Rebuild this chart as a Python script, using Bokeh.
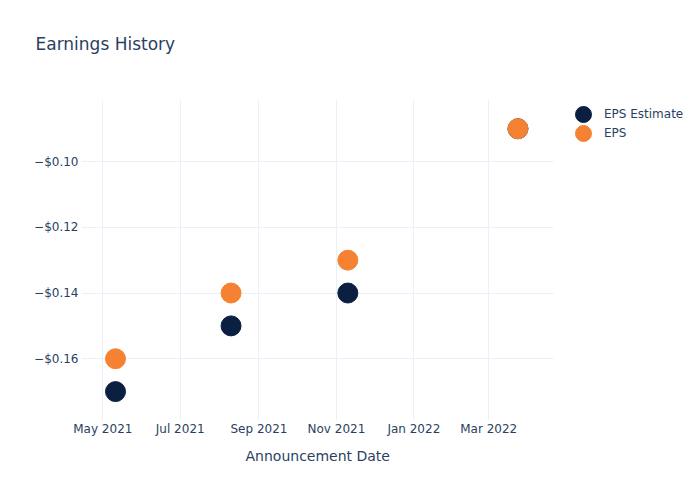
from datetime import datetime
import pandas as pd
from bokeh.plotting import figure
from bokeh.models import (Range1d, FixedTicker, DatetimeTickFormatter, CustomJSTickFormatter,
                          Legend, LegendItem, ColumnDataSource, Title)
from bokeh.embed import file_html
from bokeh.resources import INLINE

# ---- data ----
announce_dates = ["2021-05-11", "2021-08-10", "2021-11-10", "2022-03-24"]
eps_estimate = [-0.17, -0.15, -0.14, -0.09]
eps_actual = [-0.16, -0.14, -0.13, -0.09]
x_tick_dates = ["2021-05-01", "2021-07-01", "2021-09-01", "2021-11-01", "2022-01-01", "2022-03-01"]
y_ticks = [-0.16, -0.14, -0.12, -0.10]

FONT = "DejaVu Sans"
TXT = "#2a3f5f"
GRID = "#ebf0f8"
NAVY = "#0b1f40"
ORANGE = "#f58233"

dates = pd.to_datetime(announce_dates)
src = ColumnDataSource(dict(date=dates, est=eps_estimate, eps=eps_actual))

# visible axis span (plot area 81..553 px); frame extended to 690 px for the legend
x_start = datetime(2021, 4, 14, 5)
x_axis_end = datetime(2022, 4, 21)
x_frame_end = x_start + (x_axis_end - x_start) * (609 / 472)
start_ms = pd.Timestamp(x_start).value / 1e6
end_ms = pd.Timestamp(x_axis_end).value / 1e6

p = figure(width=692, height=492, output_backend="svg", toolbar_location=None,
           x_axis_type="datetime",
           x_range=Range1d(x_start, x_frame_end),
           y_range=Range1d(-0.1788, -0.0814),
           min_border_left=81, min_border_right=2, min_border_top=100, min_border_bottom=72)
p.outline_line_color = None
p.background_fill_color = "white"
p.border_fill_color = "white"

p.title.text = "Earnings History"
p.title.text_font = FONT
p.title.text_font_size = "17px"
p.title.text_font_style = "normal"
p.title.text_color = TXT
p.title.align = "left"
p.title.offset = -46
p.title.standoff = 0

# empty spacer between the chart title and the plot area
spacer = Title(text=" ", text_font_size="1px", standoff=44)
p.add_layout(spacer, "above")

p.xgrid.grid_line_color = GRID
# horizontal grid lines limited to the visible plot area
try:
    p.ygrid.cross_bounds = (start_ms, end_ms)
    p.ygrid.grid_line_color = GRID
except Exception:
    p.ygrid.grid_line_color = None
    p.segment(x0=[x_start] * len(y_ticks), x1=[x_axis_end] * len(y_ticks),
              y0=y_ticks, y1=y_ticks, line_color=GRID, line_width=1, level="underlay")

r1 = p.scatter("date", "est", source=src, size=20, color=NAVY, line_color=NAVY)
r2 = p.scatter("date", "eps", source=src, size=20, color=ORANGE, line_color=ORANGE)

tick_ms = [pd.Timestamp(d).value / 1e6 for d in x_tick_dates]
p.xaxis.ticker = FixedTicker(ticks=tick_ms)
fmt = "%b %Y"
p.xaxis.formatter = DatetimeTickFormatter(years=fmt, months=fmt, days=fmt, hours=fmt,
                                          hourmin=fmt, minutes=fmt, minsec=fmt, seconds=fmt,
                                          milliseconds=fmt, microseconds=fmt)
p.yaxis.ticker = FixedTicker(ticks=y_ticks)
p.yaxis.formatter = CustomJSTickFormatter(code="""
    return (tick < 0 ? '\\u2212' : '') + '$' + Math.abs(tick).toFixed(2);
""")

for ax in (p.xaxis[0], p.yaxis[0]):
    ax.axis_line_color = None
    ax.major_tick_line_color = None
    ax.minor_tick_line_color = None
    ax.major_tick_out = 0
    ax.major_tick_in = 0
    ax.minor_tick_out = 0
    ax.minor_tick_in = 0
    ax.major_label_text_font = FONT
    ax.major_label_text_font_size = "12px"
    ax.major_label_text_color = TXT
p.xaxis.major_label_standoff = 1
p.yaxis.major_label_standoff = 3

# x axis title, centred under the visible plot area
xt = Title(text="Announcement Date", align="left", offset=164, standoff=14,
           text_font=FONT, text_font_size="14px", text_font_style="normal", text_color=TXT)
p.add_layout(xt, "below")

common = dict(padding=0, margin=0, spacing=0, glyph_width=40, glyph_height=40,
              label_height=19, label_standoff=1, label_text_font=FONT,
              label_text_font_size="12px", label_text_color=TXT,
              border_line_color=None, background_fill_alpha=0)
leg1 = Legend(items=[LegendItem(label="EPS Estimate", renderers=[r1])],
              location=(482, 286), **common)
leg2 = Legend(items=[LegendItem(label="EPS", renderers=[r2])],
              location=(482, 267), **common)
p.add_layout(leg1, "center")
p.add_layout(leg2, "center")

open("out.html", "w").write(file_html(p, INLINE))
